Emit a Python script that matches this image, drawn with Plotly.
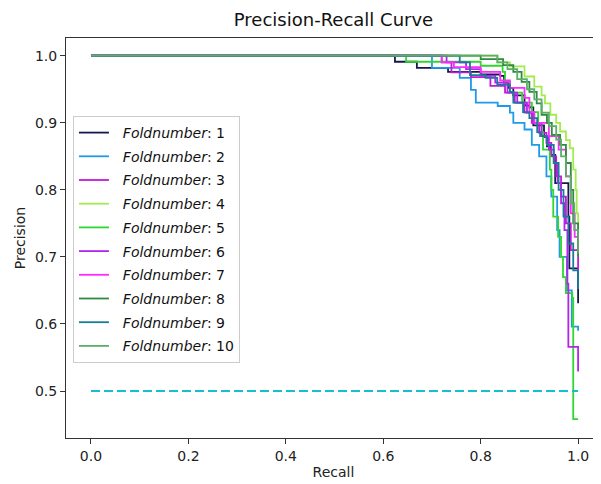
import plotly.graph_objects as go

# ---- data ----
fold_names = ["1", "2", "3", "4", "5", "6", "7", "8", "9", "10"]
fold_colors = ["#141a4a", "#1e9be8", "#c318d8", "#a3ec50", "#2ed82e",
               "#b424ee", "#ff2aff", "#2e8a40", "#1a7a9a", "#5cae68"]

recall_1 = [0, 0.624, 0.669, 0.733, 0.80, 0.84, 0.848, 0.856, 0.867, 0.89, 0.90, 0.908, 0.93, 0.936, 0.943, 0.953, 0.98, 0.982, 1.0]
precision_1 = [1.0, 0.991, 0.982, 0.976, 0.972, 0.97, 0.96, 0.952, 0.941, 0.926, 0.923, 0.896, 0.879, 0.865, 0.852, 0.81, 0.76, 0.683, 0.631]

recall_2 = [0, 0.70, 0.757, 0.78, 0.79, 0.835, 0.86, 0.867, 0.89, 0.905, 0.92, 0.935, 0.945, 0.957, 0.962, 0.977, 0.987, 1.0]
precision_2 = [1.0, 0.982, 0.967, 0.949, 0.93, 0.925, 0.915, 0.90, 0.89, 0.867, 0.85, 0.82, 0.79, 0.74, 0.70, 0.65, 0.596, 0.59]

recall_3 = [0, 0.72, 0.74, 0.78, 0.82, 0.85, 0.87, 0.89, 0.905, 0.92, 0.935, 0.945, 0.955, 0.965, 0.975, 0.985, 1.0]
precision_3 = [1.0, 0.99, 0.975, 0.968, 0.955, 0.945, 0.93, 0.915, 0.90, 0.885, 0.87, 0.85, 0.82, 0.79, 0.75, 0.71, 0.672]

recall_4 = [0, 0.835, 0.86, 0.89, 0.91, 0.925, 0.932, 0.943, 0.955, 0.963, 0.975, 0.983, 0.99, 0.995, 0.997, 1.0]
precision_4 = [1.0, 0.99, 0.984, 0.969, 0.954, 0.941, 0.929, 0.912, 0.90, 0.887, 0.874, 0.862, 0.83, 0.80, 0.765, 0.70]

recall_5 = [0, 0.647, 0.80, 0.845, 0.85, 0.86, 0.885, 0.905, 0.918, 0.925, 0.928, 0.942, 0.945, 0.949, 0.959, 0.965, 0.969, 0.975, 0.988, 0.99, 1.0]
precision_5 = [1.0, 0.991, 0.985, 0.976, 0.961, 0.945, 0.93, 0.916, 0.90, 0.886, 0.86, 0.83, 0.80, 0.76, 0.73, 0.70, 0.67, 0.646, 0.639, 0.458, 0.458]

recall_6 = [0, 0.73, 0.77, 0.80, 0.83, 0.855, 0.875, 0.895, 0.91, 0.925, 0.94, 0.95, 0.958, 0.965, 0.972, 0.978, 0.98, 1.0]
precision_6 = [1.0, 0.99, 0.98, 0.97, 0.96, 0.945, 0.93, 0.915, 0.90, 0.88, 0.86, 0.84, 0.81, 0.78, 0.74, 0.66, 0.566, 0.529]

recall_7 = [0, 0.72, 0.745, 0.80, 0.84, 0.86, 0.89, 0.90, 0.91, 0.94, 0.96, 0.975, 0.985, 0.993, 1.0]
precision_7 = [1.0, 0.99, 0.983, 0.976, 0.963, 0.952, 0.937, 0.916, 0.90, 0.88, 0.86, 0.82, 0.765, 0.73, 0.709]

recall_8 = [0, 0.80, 0.846, 0.867, 0.884, 0.90, 0.915, 0.925, 0.936, 0.946, 0.963, 0.975, 0.985, 0.99, 1.0]
precision_8 = [1.0, 0.995, 0.986, 0.976, 0.961, 0.946, 0.929, 0.912, 0.90, 0.882, 0.867, 0.84, 0.80, 0.75, 0.70]

recall_9 = [0, 0.757, 0.778, 0.81, 0.834, 0.86, 0.867, 0.887, 0.90, 0.916, 0.922, 0.936, 0.95, 0.96, 0.97, 0.98, 0.99, 1.0]
precision_9 = [1.0, 0.99, 0.971, 0.967, 0.957, 0.946, 0.93, 0.916, 0.907, 0.886, 0.88, 0.867, 0.84, 0.80, 0.76, 0.72, 0.68, 0.652]

recall_10 = [0, 0.834, 0.855, 0.875, 0.895, 0.91, 0.925, 0.94, 0.955, 0.965, 0.975, 0.985, 0.992, 1.0]
precision_10 = [1.0, 0.99, 0.98, 0.965, 0.95, 0.935, 0.915, 0.895, 0.875, 0.85, 0.82, 0.78, 0.74, 0.705]

baseline_recall = [0, 1]
baseline_precision = [0.5, 0.5]

x_ticks = [0.0, 0.2, 0.4, 0.6, 0.8, 1.0]
y_ticks = [0.5, 0.6, 0.7, 0.8, 0.9, 1.0]

recalls = [recall_1, recall_2, recall_3, recall_4, recall_5, recall_6, recall_7, recall_8, recall_9, recall_10]
precisions = [precision_1, precision_2, precision_3, precision_4, precision_5, precision_6, precision_7, precision_8, precision_9, precision_10]

FONT = "DejaVu Sans"
fig = go.Figure()

for name, col, r, p in zip(fold_names, fold_colors, recalls, precisions):
    fig.add_trace(go.Scatter(
        x=r, y=p, mode="lines", line=dict(color=col, width=1.8, shape="hv"),
        name=f"&nbsp;&nbsp;<i>Foldnumber</i>: {name}", legendgroup=name,
    ))

fig.add_trace(go.Scatter(
    x=baseline_recall, y=baseline_precision, mode="lines",
    line=dict(color="#17becf", width=2, dash="9px,4px"), showlegend=False,
))

# page body has an 8px margin, so the figure is sized/offset to compensate
fig.update_layout(
    width=593, height=476,
    margin=dict(l=58, r=0, t=30, b=46),
    paper_bgcolor="white", plot_bgcolor="white",
    font=dict(family=FONT, size=14, color="#222"),
    title=dict(text="Precision-Recall Curve", x=0.5, xref="paper", y=0.975, yref="container",
               xanchor="center", yanchor="middle", font=dict(size=18, color="#111")),
    legend=dict(x=0.013, y=0.805, xanchor="left", yanchor="top",
                bgcolor="rgba(255,255,255,0.85)", bordercolor="#cccccc", borderwidth=1,
                font=dict(size=14, color="#111"), tracegroupgap=2.5, itemwidth=30),
    showlegend=True,
)
fig.update_xaxes(
    range=[-0.0513, 1.047], tickvals=x_ticks, tickformat=".1f",
    showgrid=False, zeroline=False, showline=True, linecolor="#333", linewidth=1,
    mirror=True, ticks="outside", ticklen=5, tickcolor="#333",
    title=dict(text="Recall", font=dict(size=14), standoff=4),
)
fig.update_yaxes(
    range=[0.43, 1.0264], tickvals=y_ticks, tickformat=".1f",
    showgrid=False, zeroline=False, showline=True, linecolor="#333", linewidth=1,
    ticks="outside", ticklen=5, tickcolor="#333",
    title=dict(text="Precision", font=dict(size=14), standoff=6),
)

fig.write_html("out.html")
